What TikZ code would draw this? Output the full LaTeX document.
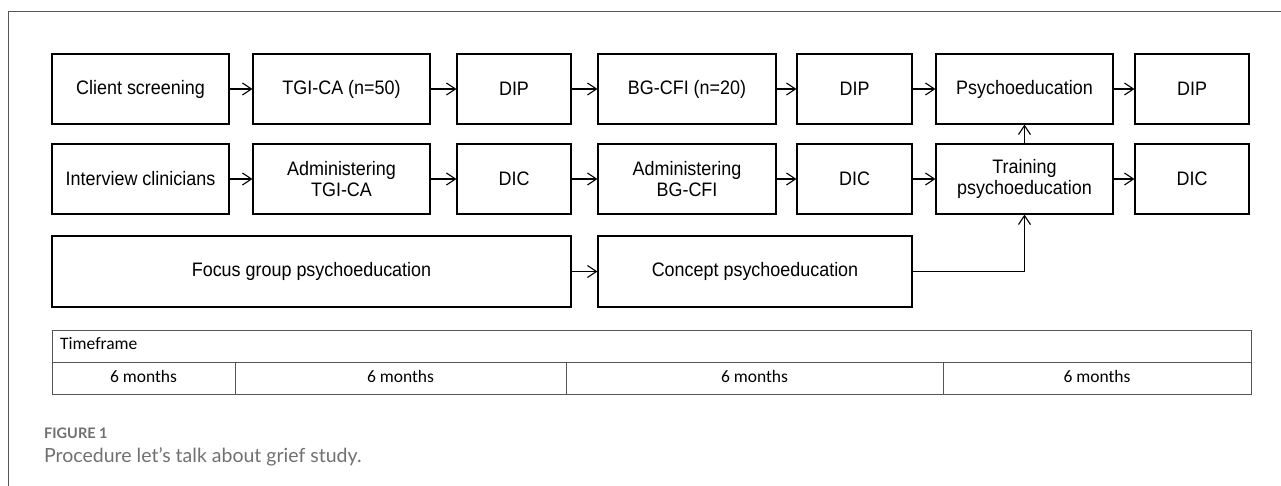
\documentclass[tikz,border=0pt]{standalone}
\usepackage{fontspec}
\setmainfont{Liberation Sans}[FakeStretch=0.92]
\newfontfamily\tablefont{Carlito}
\newfontfamily\capfont{Lato}
\usetikzlibrary{arrows.meta}
\definecolor{framegray}{HTML}{555555}
\definecolor{capgray}{HTML}{707070}
\begin{document}
\begin{tikzpicture}[x=1pt,y=-1pt,
  box/.style={draw=black, line width=1.2pt, inner sep=2pt, align=center,
    font=\fontsize{19.5}{21}\selectfont, minimum height=70pt},
  wA/.style={minimum width=177pt},
  wB/.style={minimum width=114pt},
  flow/.style={line width=1.1pt, -{Straight Barb[length=9pt,width=12pt,line width=1.1pt]}},
  tline/.style={draw=framegray, line width=1pt},
  cell/.style={font=\tablefont\fontsize{17.5}{20}\selectfont, inner sep=0pt}
]
\useasboundingbox (0,0) rectangle (1281,486);
% frame
\draw[draw=framegray, line width=1pt] (8,486) -- (8,12) -- (1281,12);

% row 1
\node[box,wA] (cs)  at (140.5,89) {Client screening};
\node[box,wA] (tgi) at (341.5,89) {TGI-CA (n=50)};
\node[box,wB] (dip1) at (514,89) {DIP};
\node[box,wA,minimum width=178pt] (bg) at (687,89) {BG-CFI (n=20)};
\node[box,wB,minimum width=115pt] (dip2) at (854.5,89) {DIP};
\node[box,wA] (psy) at (1024.5,89) {Psychoeducation};
\node[box,wB] (dip3) at (1192,89) {DIP};

% row 2
\node[box,wA] (ic)  at (140.5,179) {Interview clinicians};
\node[box,wA] (atgi) at (341.5,179) {Administering\\TGI-CA};
\node[box,wB] (dic1) at (514,179) {DIC};
\node[box,wA,minimum width=178pt] (abg) at (687,179) {Administering\\BG-CFI};
\node[box,wB,minimum width=115pt] (dic2) at (854.5,179) {DIC};
\node[box,wA] (tr) at (1024.5,179) {Training\\psychoeducation};
\node[box,wB] (dic3) at (1192,179) {DIC};

% row 3
\node[box,minimum width=519pt,minimum height=71pt] (fg) at (311.5,271.5) {Focus group psychoeducation};
\node[box,minimum width=314pt,minimum height=71pt] (cp) at (755,271.5) {Concept psychoeducation};

% arrows
\draw[flow] (cs) -- (tgi);
\draw[flow] (tgi) -- (dip1);
\draw[flow] (dip1) -- (bg);
\draw[flow] (bg) -- (dip2);
\draw[flow] (dip2) -- (psy);
\draw[flow] (psy) -- (dip3);
\draw[flow] (ic) -- (atgi);
\draw[flow] (atgi) -- (dic1);
\draw[flow] (dic1) -- (abg);
\draw[flow] (abg) -- (dic2);
\draw[flow] (dic2) -- (tr);
\draw[flow] (tr) -- (dic3);
\draw[flow] (tr) -- (psy);
\draw[flow] (fg) -- (cp);
\draw[flow] (cp.east) -| (tr.south);

% timeframe table
\coordinate (tl) at (52,330);
\coordinate (br) at (1251,394);
\draw[tline] (tl) rectangle (br);
\draw[tline] (52,362) -- (1251,362);
\draw[tline] (235,362) -- (235,394);
\draw[tline] (566,362) -- (566,394);
\draw[tline] (943,362) -- (943,394);
\node[cell, anchor=west] (tf) at (60,344) {Timeframe};
\node[cell] (m1) at (143.5,376) {6 months};
\node[cell] (m2) at (400.5,376) {6 months};
\node[cell] (m3) at (754.5,376) {6 months};
\node[cell] (m4) at (1097,376) {6 months};

% caption
\node[anchor=base west, inner sep=0pt, text=capgray, font=\capfont\bfseries\fontsize{14.5}{16}\selectfont] (fig) at (44,438) {FIGURE 1};
\node[anchor=base west, inner sep=0pt, text=capgray, font=\capfont\fontsize{19.5}{22}\selectfont] (cap) at (44,462) {Procedure let’s talk about grief study.};
\end{tikzpicture}
\end{document}
